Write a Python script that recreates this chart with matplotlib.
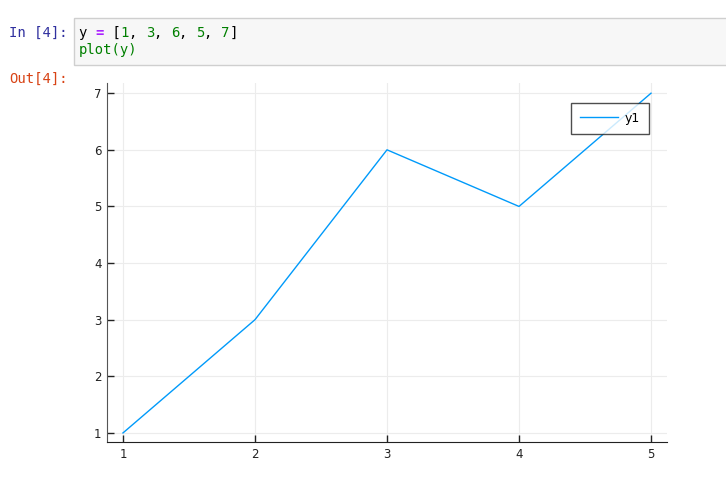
import matplotlib
matplotlib.use("Agg")
import matplotlib.pyplot as plt
from matplotlib.patches import Rectangle

# data
x = [1, 2, 3, 4, 5]
y = [1, 3, 6, 5, 7]
xticks = [1, 2, 3, 4, 5]
yticks = [1, 2, 3, 4, 5, 6, 7]
label = "y1"

W, H = 726, 478
fig = plt.figure(figsize=(W / 100, H / 100), dpi=100)

def fx(px):
    return px / W

def fy(py):
    return 1 - py / H

# notebook cell chrome
fig.patches.append(Rectangle((fx(74), fy(65)), fx(660), fy(18) - fy(65),
                             transform=fig.transFigure, facecolor="#f7f7f7",
                             edgecolor="#cfcfcf", linewidth=1))
mono = "DejaVu Sans Mono"
fig.text(fx(9), fy(33), "In [4]:", color="#30309F", family=mono, fontsize=10, va="center")
fig.text(fx(9), fy(79), "Out[4]:", color="#D84315", family=mono, fontsize=10, va="center")

cw = 8.36
segments = [("y ", "#000000", "normal"), ("=", "#AA22FF", "bold"), (" [", "#000000", "normal"),
            ("1", "#008000", "normal"), (", ", "#000000", "normal"),
            ("3", "#008000", "normal"), (", ", "#000000", "normal"),
            ("6", "#008000", "normal"), (", ", "#000000", "normal"),
            ("5", "#008000", "normal"), (", ", "#000000", "normal"),
            ("7", "#008000", "normal"), ("]", "#000000", "normal")]
pos = 0
for s, c, w in segments:
    fig.text(fx(79 + pos * cw), fy(33), s, color=c, family=mono, fontsize=10,
             va="center", fontweight=w)
    pos += len(s)
fig.text(fx(79), fy(50), "plot(y)", color="#008000", family=mono, fontsize=10, va="center")

# plot
ax = fig.add_axes([fx(107), fy(442), fx(667) - fx(107), fy(83) - fy(442)])
ax.plot(x, y, color="#009AFA", linewidth=1, label=label)
ax.set_xlim(0.879, 5.121)
ax.set_ylim(0.84, 7.18)
ax.set_xticks(xticks)
ax.set_yticks(yticks)
ax.grid(True, color="#ececec", linewidth=0.8)
ax.set_axisbelow(True)
for s in ["top", "right"]:
    ax.spines[s].set_visible(False)
ax.spines["left"].set_color("#555555")
ax.spines["bottom"].set_color("#222222")
ax.tick_params(direction="in", length=5, width=1, labelsize=8.5, colors="#222222", pad=4)

leg = ax.legend(loc="upper right", bbox_to_anchor=(0.968, 0.944), borderaxespad=0,
                fontsize=9, frameon=True, fancybox=False, edgecolor="#222222",
                handlelength=3.0, borderpad=0.7, handletextpad=0.6)
leg.get_frame().set_linewidth(1)

fig.savefig("out.png", dpi=100)
